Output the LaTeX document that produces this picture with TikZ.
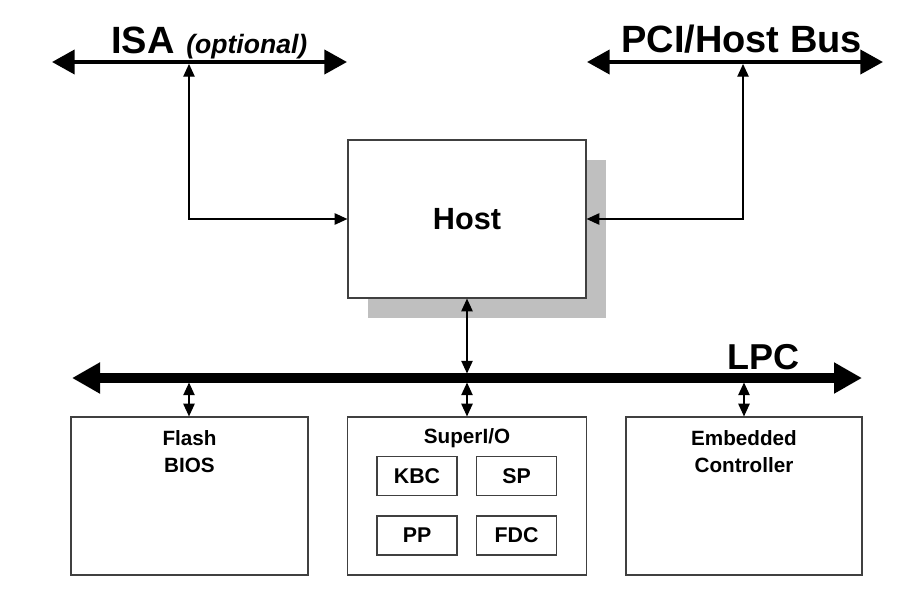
\documentclass[tikz,border=0pt]{standalone}
\usepackage{fontspec}
\setmainfont{Liberation Sans}
\usetikzlibrary{arrows.meta}
\begin{document}
\begin{tikzpicture}[x=0.75pt,y=-0.75pt,
  box/.style={draw=black!75, line width=0.9pt, fill=white, inner sep=0pt},
  subbox/.style={box, minimum width=60pt, minimum height=29.25pt, font=\bfseries\fontsize{16}{18}\selectfont},
  lbl/.style={font=\bfseries\fontsize{15.5}{18}\selectfont, inner sep=0pt},
  conn/.style={line width=1pt, {Triangle[length=9.5pt,width=8.5pt]}-{Triangle[length=9.5pt,width=8.5pt]}},
  bus/.style={line width=3pt, {Triangle[length=17pt,width=18pt]}-{Triangle[length=17pt,width=18pt]}},
  bigbus/.style={line width=7pt, {Triangle[length=21pt,width=22pt]}-{Triangle[length=21pt,width=22pt]}},
  bustext/.style={font=\bfseries\fontsize{28.5}{30}\selectfont, inner sep=0pt, anchor=base west}]
\useasboundingbox (0,0) rectangle (917,596);
% buses
\coordinate (isaL) at (52,62); \coordinate (isaR) at (347,62);
\coordinate (pciL) at (587,62); \coordinate (pciR) at (883,62);
\coordinate (lpcL) at (72,378); \coordinate (lpcR) at (862,378);
\draw[bus] (isaL) -- (isaR);
\draw[bus] (pciL) -- (pciR);
\draw[bigbus] (lpcL) -- (lpcR);
\node[bustext] (isat) at (111,53) {ISA};
\node[inner sep=0pt, anchor=base west, font=\bfseries\itshape\fontsize{16}{18}\selectfont] (optt) at (186,53) {\resizebox{121\dimexpr0.75pt\relax}{!}{(optional)}};
\node[bustext] (pcit) at (621,52) {PCI/Host Bus};
\node[bustext, font=\bfseries\fontsize{27}{30}\selectfont] (lpct) at (727,369) {LPC};
% host with shadow
\fill[black!25] (368,160) rectangle (606,318);
\node[box, minimum width=178.5pt, minimum height=118.5pt] (host) at (467,219) {};
\node[font=\bfseries\fontsize{23}{26}\selectfont, inner sep=0pt] (hostt) at (467,219) {Host};
% lower boxes
\node[box, minimum width=177.75pt, minimum height=118.5pt] (flash) at (189.5,496) {};
\node[box, minimum width=179pt, minimum height=118.5pt] (sio) at (467,496) {};
\node[box, minimum width=177pt, minimum height=118.5pt] (ec) at (744,496) {};
\node[lbl] (flasht1) at (189.5,438) {Flash};
\node[lbl] (flasht2) at (189.5,465) {BIOS};
\node[lbl] (siot) at (467,438) {SuperI/O};
\node[lbl] (ect1) at (744,438) {Embedded};
\node[lbl] (ect2) at (744,465) {Controller};
\node[subbox] (kbc) at (417,476) {KBC};
\node[subbox] (sp) at (516.5,476) {SP};
\node[subbox] (pp) at (417,535.5) {PP};
\node[subbox] (fdc) at (516.5,535.5) {FDC};
% connectors
\coordinate (isaT) at (189,64);
\coordinate (pciT) at (743,64);
\coordinate (lpcT) at (467,373.5);
\coordinate (lpcB1) at (189,382.5);
\coordinate (lpcB2) at (467,382.5);
\coordinate (lpcB3) at (744,382.5);
\draw[conn] (isaT) |- (host.west);
\draw[conn] (pciT) |- (host.east);
\draw[conn] (host.south) -- (lpcT);
\draw[conn] (lpcB1) -- (lpcB1 |- flash.north);
\draw[conn] (lpcB2) -- (sio.north);
\draw[conn] (lpcB3) -- (lpcB3 |- ec.north);
\end{tikzpicture}
\end{document}
